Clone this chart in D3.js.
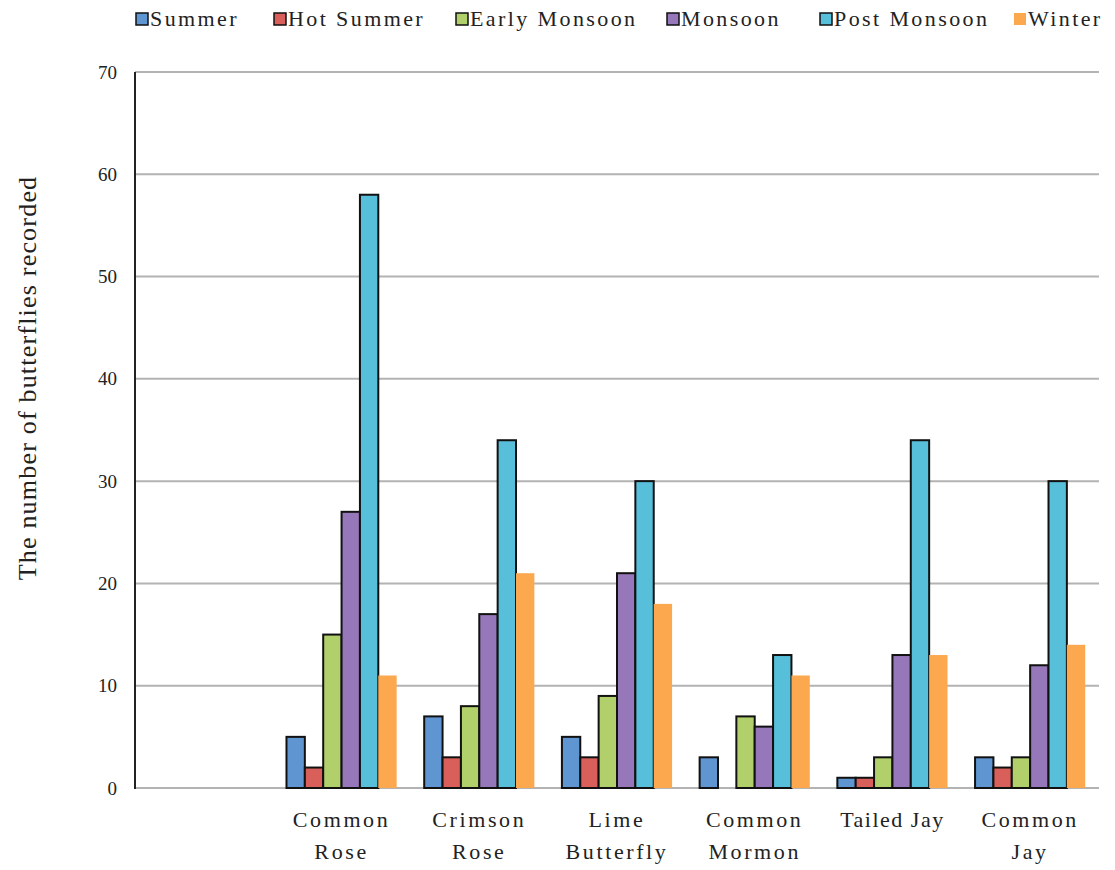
<!DOCTYPE html>
<html>
<head>
<meta charset="utf-8">
<script src="https://cdn.jsdelivr.net/npm/d3@7"></script>
<style>
  html, body { margin: 0; padding: 0; background: #fff; }
  svg { display: block; }
  text { font-family: "Liberation Serif", "Times New Roman", serif; fill: #222; }
</style>
</head>
<body>
<svg id="chart" width="1115" height="870"></svg>
<script>
// Butterfly counts per species and season
const categories = ["", "Common Rose", "Crimson Rose", "Lime Butterfly", "Common Mormon", "Tailed Jay", "Common Jay"];
const categoryLines = [[], ["Common", "Rose"], ["Crimson", "Rose"], ["Lime", "Butterfly"], ["Common", "Mormon"], ["Tailed Jay"], ["Common", "Jay"]];
const seasons = ["Summer", "Hot Summer", "Early Monsoon", "Monsoon", "Post Monsoon", "Winter"];
const summer       = [null, 5, 7, 5, 3, 1, 3];
const hotSummer    = [null, 2, 3, 3, 0, 1, 2];
const earlyMonsoon = [null, 15, 8, 9, 7, 3, 3];
const monsoon      = [null, 27, 17, 21, 6, 13, 12];
const postMonsoon  = [null, 58, 34, 30, 13, 34, 30];
const winter       = [null, 11, 21, 18, 11, 13, 14];
const yTicks = [0, 10, 20, 30, 40, 50, 60, 70];
const colors = ["#5f96d2", "#d9605a", "#b1d06c", "#9677b9", "#58bfda", "#fca84f"];

const seriesValues = [summer, hotSummer, earlyMonsoon, monsoon, postMonsoon, winter];

const svg = d3.select("#chart");
const plotLeft = 135, plotRight = 1099, plotTop = 72, plotBottom = 788;

const y = d3.scaleLinear().domain([0, 70]).range([plotBottom, plotTop]);
const x0 = d3.scaleBand().domain(categories).range([plotLeft, plotRight]).paddingInner(0.2).paddingOuter(0.1);
const x1 = d3.scaleBand().domain(seasons).range([0, x0.bandwidth()]);

// horizontal gridlines
svg.append("g")
  .selectAll("line")
  .data(yTicks)
  .join("line")
  .attr("x1", plotLeft).attr("x2", plotRight)
  .attr("y1", d => y(d)).attr("y2", d => y(d))
  .attr("stroke", "#b3b3b3")
  .attr("stroke-width", 2);

// y axis tick labels
const yAxis = d3.axisLeft(y).tickValues(yTicks).tickSize(0).tickPadding(18);
const gy = svg.append("g").attr("transform", `translate(${plotLeft},0)`).call(yAxis);
gy.select(".domain").remove();
gy.selectAll("text")
  .style("font-family", "'Liberation Serif', serif")
  .style("font-size", "19px")
  .attr("fill", "#333");

// bars
const rows = [];
categories.forEach((c, i) => {
  seasons.forEach((s, j) => {
    const v = seriesValues[j][i];
    if (v !== null) rows.push({ c, s, j, v });
  });
});

svg.append("g")
  .selectAll("rect")
  .data(rows.filter(d => d.v > 0))
  .join("rect")
  .attr("x", d => x0(d.c) + x1(d.s))
  .attr("y", d => y(d.v))
  .attr("width", x1.bandwidth())
  .attr("height", d => y(0) - y(d.v))
  .attr("fill", d => colors[d.j])
  .attr("stroke", d => d.s === "Winter" ? "none" : "#111")
  .attr("stroke-width", 2);

// y axis line
svg.append("line")
  .attr("x1", plotLeft).attr("x2", plotLeft)
  .attr("y1", plotTop).attr("y2", plotBottom + 1)
  .attr("stroke", "#222").attr("stroke-width", 2);

// category labels
const catG = svg.append("g");
categories.forEach((c, i) => {
  const cx = x0(c) + x0.bandwidth() / 2;
  const t = catG.append("text")
    .attr("x", cx)
    .attr("y", 827)
    .attr("text-anchor", "middle")
    .style("font-size", "22px")
    .style("letter-spacing", c === "Tailed Jay" ? "1.5px" : "2.6px");
  categoryLines[i].forEach((ln, k) => {
    t.append("tspan").attr("x", cx).attr("dy", k === 0 ? 0 : 32).text(ln);
  });
});

// y axis title
svg.append("text")
  .attr("transform", `translate(36,${(plotTop + plotBottom) / 2 - 52}) rotate(-90)`)
  .attr("text-anchor", "middle")
  .style("font-size", "26px")
  .style("letter-spacing", "1.2px")
  .text("The number of butterflies recorded");

// legend
const legendX = [136, 274, 456, 667, 820, 1014];
const lg = svg.append("g");
seasons.forEach((s, j) => {
  const g = lg.append("g").attr("transform", `translate(${legendX[j]},13)`);
  g.append("rect")
    .attr("width", 12).attr("height", 12)
    .attr("fill", colors[j])
    .attr("stroke", s === "Winter" ? "none" : "#111")
    .attr("stroke-width", 1.5);
  g.append("text")
    .attr("x", 14).attr("y", 13)
    .style("font-size", "22px")
    .style("letter-spacing", "2.4px")
    .text(s);
});
</script>
</body>
</html>
